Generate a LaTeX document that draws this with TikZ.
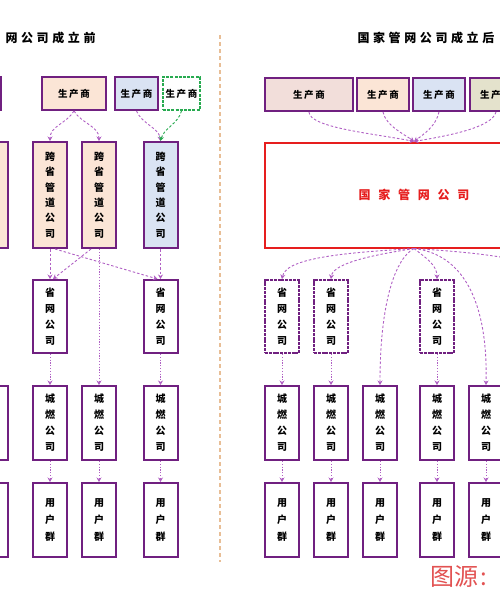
\documentclass[tikz,border=0pt]{standalone}
\usepackage{fontspec}
\newfontfamily\cjk{Noto Sans CJK SC}
\usetikzlibrary{arrows.meta}
\definecolor{boxpurple}{RGB}{112,32,128}
\definecolor{linkpurple}{RGB}{176,96,196}
\definecolor{peach}{RGB}{251,229,214}
\definecolor{paleblue}{RGB}{218,227,243}
\definecolor{palepink}{RGB}{242,222,218}
\definecolor{paleolive}{RGB}{228,226,204}
\definecolor{linkgreen}{RGB}{40,170,80}
\definecolor{netred}{RGB}{230,30,30}
\definecolor{dividertan}{RGB}{232,190,150}
\definecolor{sourcered}{RGB}{226,82,82}

\begin{document}
\begin{tikzpicture}[x=1pt,y=-1pt,
  unit/.style={draw=boxpurple, line width=2pt, inner sep=0pt, align=center,
    font=\cjk\bfseries\fontsize{10}{16}\selectfont},
  colbox/.style={unit, minimum width=34pt, minimum height=74pt},
  pipebox/.style={unit, minimum width=34pt, minimum height=106pt,
    font=\cjk\bfseries\fontsize{10}{15.4}\selectfont},
  prodbox/.style={unit, minimum height=33pt,
    font=\cjk\bfseries\fontsize{9.5}{10}\selectfont\addfontfeature{LetterSpace=18}},
  link/.style={draw=linkpurple, line width=0.9pt, dash pattern=on 2.5pt off 2pt,
    -{Stealth[length=4.5pt,width=5pt,fill=boxpurple]}},
  dotlink/.style={link, dash pattern=on 1.2pt off 1.6pt},
  headline/.style={font=\cjk\bfseries\fontsize{12}{14}\selectfont\addfontfeature{LetterSpace=30}}]
\useasboundingbox (0,0) rectangle (500,600);

% titles
\node[headline, anchor=west] (ttlL) at (2,38) {网公司成立前};
\node[headline, anchor=west] (ttlR) at (354,38) {国家管网公司成立后};

% divider
\draw[dividertan, line width=1.2pt, dash pattern=on 4pt off 3pt] (220,35) -- (220,562);

% ---- before ----
\node[prodbox, minimum width=61pt, fill=peach] (lp0) at (-30,93.5) {};
\node[prodbox, minimum width=64pt, fill=peach] (lp1) at (74,93.5) {生产商};
\node[prodbox, minimum width=43pt, fill=paleblue] (lp2) at (136.5,93.5) {生产商};
\node[prodbox, minimum width=37pt, draw=linkgreen, dash pattern=on 3pt off 1.2pt] (lp3) at (181.5,93.5) {生产商};

\node[pipebox, fill=peach] (lpP) at (-9,195) {};
\node[pipebox, fill=peach] (lpA) at (50,195) {跨\\省\\管\\道\\公\\司};
\node[pipebox, fill=peach] (lpB) at (99,195) {跨\\省\\管\\道\\公\\司};
\node[pipebox, fill=paleblue] (lpC) at (160.5,195) {跨\\省\\管\\道\\公\\司};

\node[colbox, minimum height=73pt] (lsA) at (50,316.5) {省\\网\\公\\司};
\node[colbox, minimum height=73pt] (lsC) at (160.5,316.5) {省\\网\\公\\司};

\node[colbox] (lcP) at (-9,423) {};
\node[colbox] (lcA) at (50,423) {城\\燃\\公\\司};
\node[colbox] (lcB) at (99,423) {城\\燃\\公\\司};
\node[colbox] (lcC) at (160.5,423) {城\\燃\\公\\司};

\node[colbox, font=\cjk\bfseries\fontsize{10}{17}\selectfont] (luP) at (-9,520) {};
\node[colbox, font=\cjk\bfseries\fontsize{10}{17}\selectfont] (luA) at (50,520) {用\\户\\群};
\node[colbox, font=\cjk\bfseries\fontsize{10}{17}\selectfont] (luB) at (99,520) {用\\户\\群};
\node[colbox, font=\cjk\bfseries\fontsize{10}{17}\selectfont] (luC) at (160.5,520) {用\\户\\群};

\draw[link] (lp1.south) .. controls (66,124) and (50,126) .. (lpA.north);
\draw[link] (lp1.south) .. controls (82,124) and (99,126) .. (lpB.north);
\draw[link] (lp2.south) .. controls (142,124) and (159,128) .. (lpC.north);
\draw[link, draw=linkgreen, -{Stealth[length=4.5pt,width=5pt,fill=linkgreen]}] (lp3.south) .. controls (178,124) and (164,128) .. (lpC.north);

\draw[link] (lpA.south) -- (lsA.north);
\draw[link] ([xshift=5pt]lpA.south) -- ([xshift=-3pt]lsC.north);
\draw[link] ([xshift=-8pt]lpB.south) -- ([xshift=3pt]lsA.north);
\draw[dotlink] (lpB.south) -- (lcB.north);
\draw[link] (lpC.south) -- (lsC.north);

\draw[dotlink] (lsA.south) -- (lcA.north);
\draw[dotlink] (lsC.south) -- (lcC.north);
\draw[dotlink] (lcA.south) -- (luA.north);
\draw[dotlink] (lcB.south) -- (luB.north);
\draw[dotlink] (lcC.south) -- (luC.north);

% ---- after ----
\node[prodbox, minimum width=88pt, fill=palepink] (rp1) at (309,94.5) {生产商};
\node[prodbox, minimum width=52pt, fill=peach] (rp2) at (383,94.5) {生产商};
\node[prodbox, minimum width=52pt, fill=paleblue] (rp3) at (439,94.5) {生产商};
\node[prodbox, minimum width=52pt, fill=paleolive] (rp4) at (496,94.5) {生产商};

\node[draw=netred, line width=2pt, minimum width=298pt, minimum height=105pt,
  text=netred, font=\cjk\bfseries\fontsize{12}{14}\selectfont\addfontfeature{LetterSpace=65}] (gw) at (414,195) {国家管网公司};

\node[colbox, minimum height=73pt, dash pattern=on 3pt off 0.8pt] (rs1) at (282,316.5) {省\\网\\公\\司};
\node[colbox, minimum height=73pt, dash pattern=on 3pt off 0.8pt] (rs2) at (331,316.5) {省\\网\\公\\司};
\node[colbox, minimum height=73pt, dash pattern=on 3pt off 0.8pt] (rs4) at (437,316.5) {省\\网\\公\\司};

\node[colbox] (rc1) at (282,423) {城\\燃\\公\\司};
\node[colbox] (rc2) at (331,423) {城\\燃\\公\\司};
\node[colbox] (rc3) at (380,423) {城\\燃\\公\\司};
\node[colbox] (rc4) at (437,423) {城\\燃\\公\\司};
\node[colbox] (rc5) at (486,423) {城\\燃\\公\\司};

\node[colbox, font=\cjk\bfseries\fontsize{10}{17}\selectfont] (ru1) at (282,520) {用\\户\\群};
\node[colbox, font=\cjk\bfseries\fontsize{10}{17}\selectfont] (ru2) at (331,520) {用\\户\\群};
\node[colbox, font=\cjk\bfseries\fontsize{10}{17}\selectfont] (ru3) at (380,520) {用\\户\\群};
\node[colbox, font=\cjk\bfseries\fontsize{10}{17}\selectfont] (ru4) at (437,520) {用\\户\\群};
\node[colbox, font=\cjk\bfseries\fontsize{10}{17}\selectfont] (ru5) at (486,520) {用\\户\\群};

\coordinate (offR) at (540,266);

\draw[link] (rp1.south) .. controls (309,128) and (378,134) .. (gw.north);
\draw[link] (rp2.south) .. controls (386,126) and (404,134) .. (gw.north);
\draw[link] (rp3.south) .. controls (436,126) and (424,134) .. (gw.north);
\draw[link] (rp4.south) .. controls (492,128) and (446,136) .. (gw.north);

\draw[link] (gw.south) .. controls (360,252) and (286,256) .. (rs1.north);
\draw[link] (gw.south) .. controls (380,254) and (333,262) .. (rs2.north);
\draw[link] (gw.south) .. controls (396,258) and (380,300) .. (rc3.north);
\draw[link] (gw.south) .. controls (426,258) and (437,265) .. (rs4.north);
\draw[link] (gw.south) .. controls (462,254) and (488,300) .. (rc5.north);
\draw[link] (gw.south) .. controls (450,251) and (500,254) .. (offR);

\draw[dotlink] (rs1.south) -- (rc1.north);
\draw[dotlink] (rs2.south) -- (rc2.north);
\draw[dotlink] (rs4.south) -- (rc4.north);
\draw[dotlink] (rc1.south) -- (ru1.north);
\draw[dotlink] (rc2.south) -- (ru2.north);
\draw[dotlink] (rc3.south) -- (ru3.north);
\draw[dotlink] (rc4.south) -- (ru4.north);
\draw[dotlink] (rc5.south) -- (ru5.north);

% source note
\node[anchor=west, inner sep=0pt, text=sourcered, font=\cjk\fontsize{24}{26}\selectfont] (src) at (430,577) {图源\hspace{2pt}:};
\end{tikzpicture}
\end{document}
